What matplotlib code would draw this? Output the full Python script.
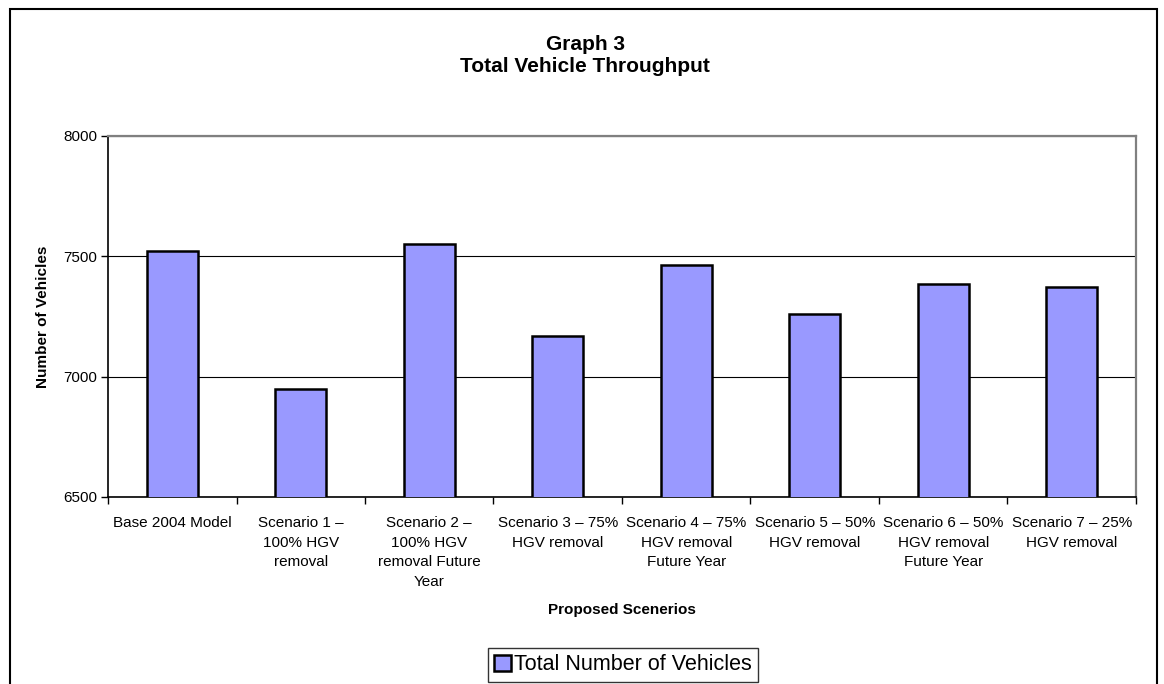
import matplotlib
matplotlib.use("Agg")
from matplotlib import pyplot as plt
from matplotlib.patches import Rectangle
import numpy as np

plt.rcParams['font.family'] = ['Liberation Sans', 'DejaVu Sans']

# 数据
categories = ["Base 2004 Model",
              "Scenario 1 –\n100% HGV\nremoval",
              "Scenario 2 –\n100% HGV\nremoval Future\nYear",
              "Scenario 3 – 75%\nHGV removal",
              "Scenario 4 – 75%\nHGV removal\nFuture Year",
              "Scenario 5 – 50%\nHGV removal",
              "Scenario 6 – 50%\nHGV removal\nFuture Year",
              "Scenario 7 – 25%\nHGV removal"]
vehicles = [7523, 6950, 7553, 7170, 7462, 7262, 7387, 7371]
y_ticks = [6500, 7000, 7500, 8000]

fig = plt.figure(figsize=(11.64, 6.84), dpi=100)
ax = fig.add_axes([0.0928, 0.2734, 0.8831, 0.5278])

x = np.arange(len(categories))
ax.bar(x, vehicles, width=0.4, color="#9999FF", edgecolor="black",
       linewidth=1.8, label="Total Number of Vehicles", zorder=3)

ax.set_xlim(-0.5, len(categories) - 0.5)
ax.set_ylim(6500, 8000)
ax.set_yticks(y_ticks)
ax.tick_params(axis='y', labelsize=11, length=5, direction='out', width=1, pad=3)
ax.set_xticks(x)
ax.set_xticklabels(categories, fontsize=11, linespacing=1.5, va='top')
ax.tick_params(axis='x', which='major', length=0, pad=14)
ax.set_xticks(np.arange(-0.5, len(categories), 1.0), minor=True)
ax.tick_params(axis='x', which='minor', length=5, width=1, direction='out')

# 网格线
ax.grid(axis='y', color='black', linewidth=0.8, zorder=0)
ax.grid(axis='x', visible=False)

ax.spines['top'].set_color('#808080')
ax.spines['right'].set_color('#808080')
ax.spines['top'].set_linewidth(1.6)
ax.spines['right'].set_linewidth(1.6)
ax.spines['left'].set_linewidth(1.2)
ax.spines['bottom'].set_linewidth(1.2)

ax.set_ylabel("Number of Vehicles", fontsize=11, fontweight='bold', labelpad=9)
fig.text(622 / 1164, 1 - 610 / 684, "Proposed Scenerios", fontsize=11,
         fontweight='bold', ha='center', va='center')

fig.text(585 / 1164, 1 - 56 / 684, "Graph 3\nTotal Vehicle Throughput", fontsize=15,
         fontweight='bold', ha='center', va='center', linespacing=1.2)

leg = ax.legend(loc='center', bbox_to_anchor=(623 / 1164, 1 - 665 / 684),
                bbox_transform=fig.transFigure, fontsize=15.5, frameon=True,
                fancybox=False, edgecolor='black', handlelength=0.75,
                handleheight=0.75, handletextpad=0.15, borderpad=0.3,
                borderaxespad=0)
leg.get_frame().set_linewidth(1.0)

# 外框
fig.patches.append(Rectangle((10 / 1164, -0.1), 1147 / 1164, 1.1 - 9 / 684,
                             transform=fig.transFigure, fill=False,
                             edgecolor='black', linewidth=1.5))

plt.savefig("out.png", dpi=100)
